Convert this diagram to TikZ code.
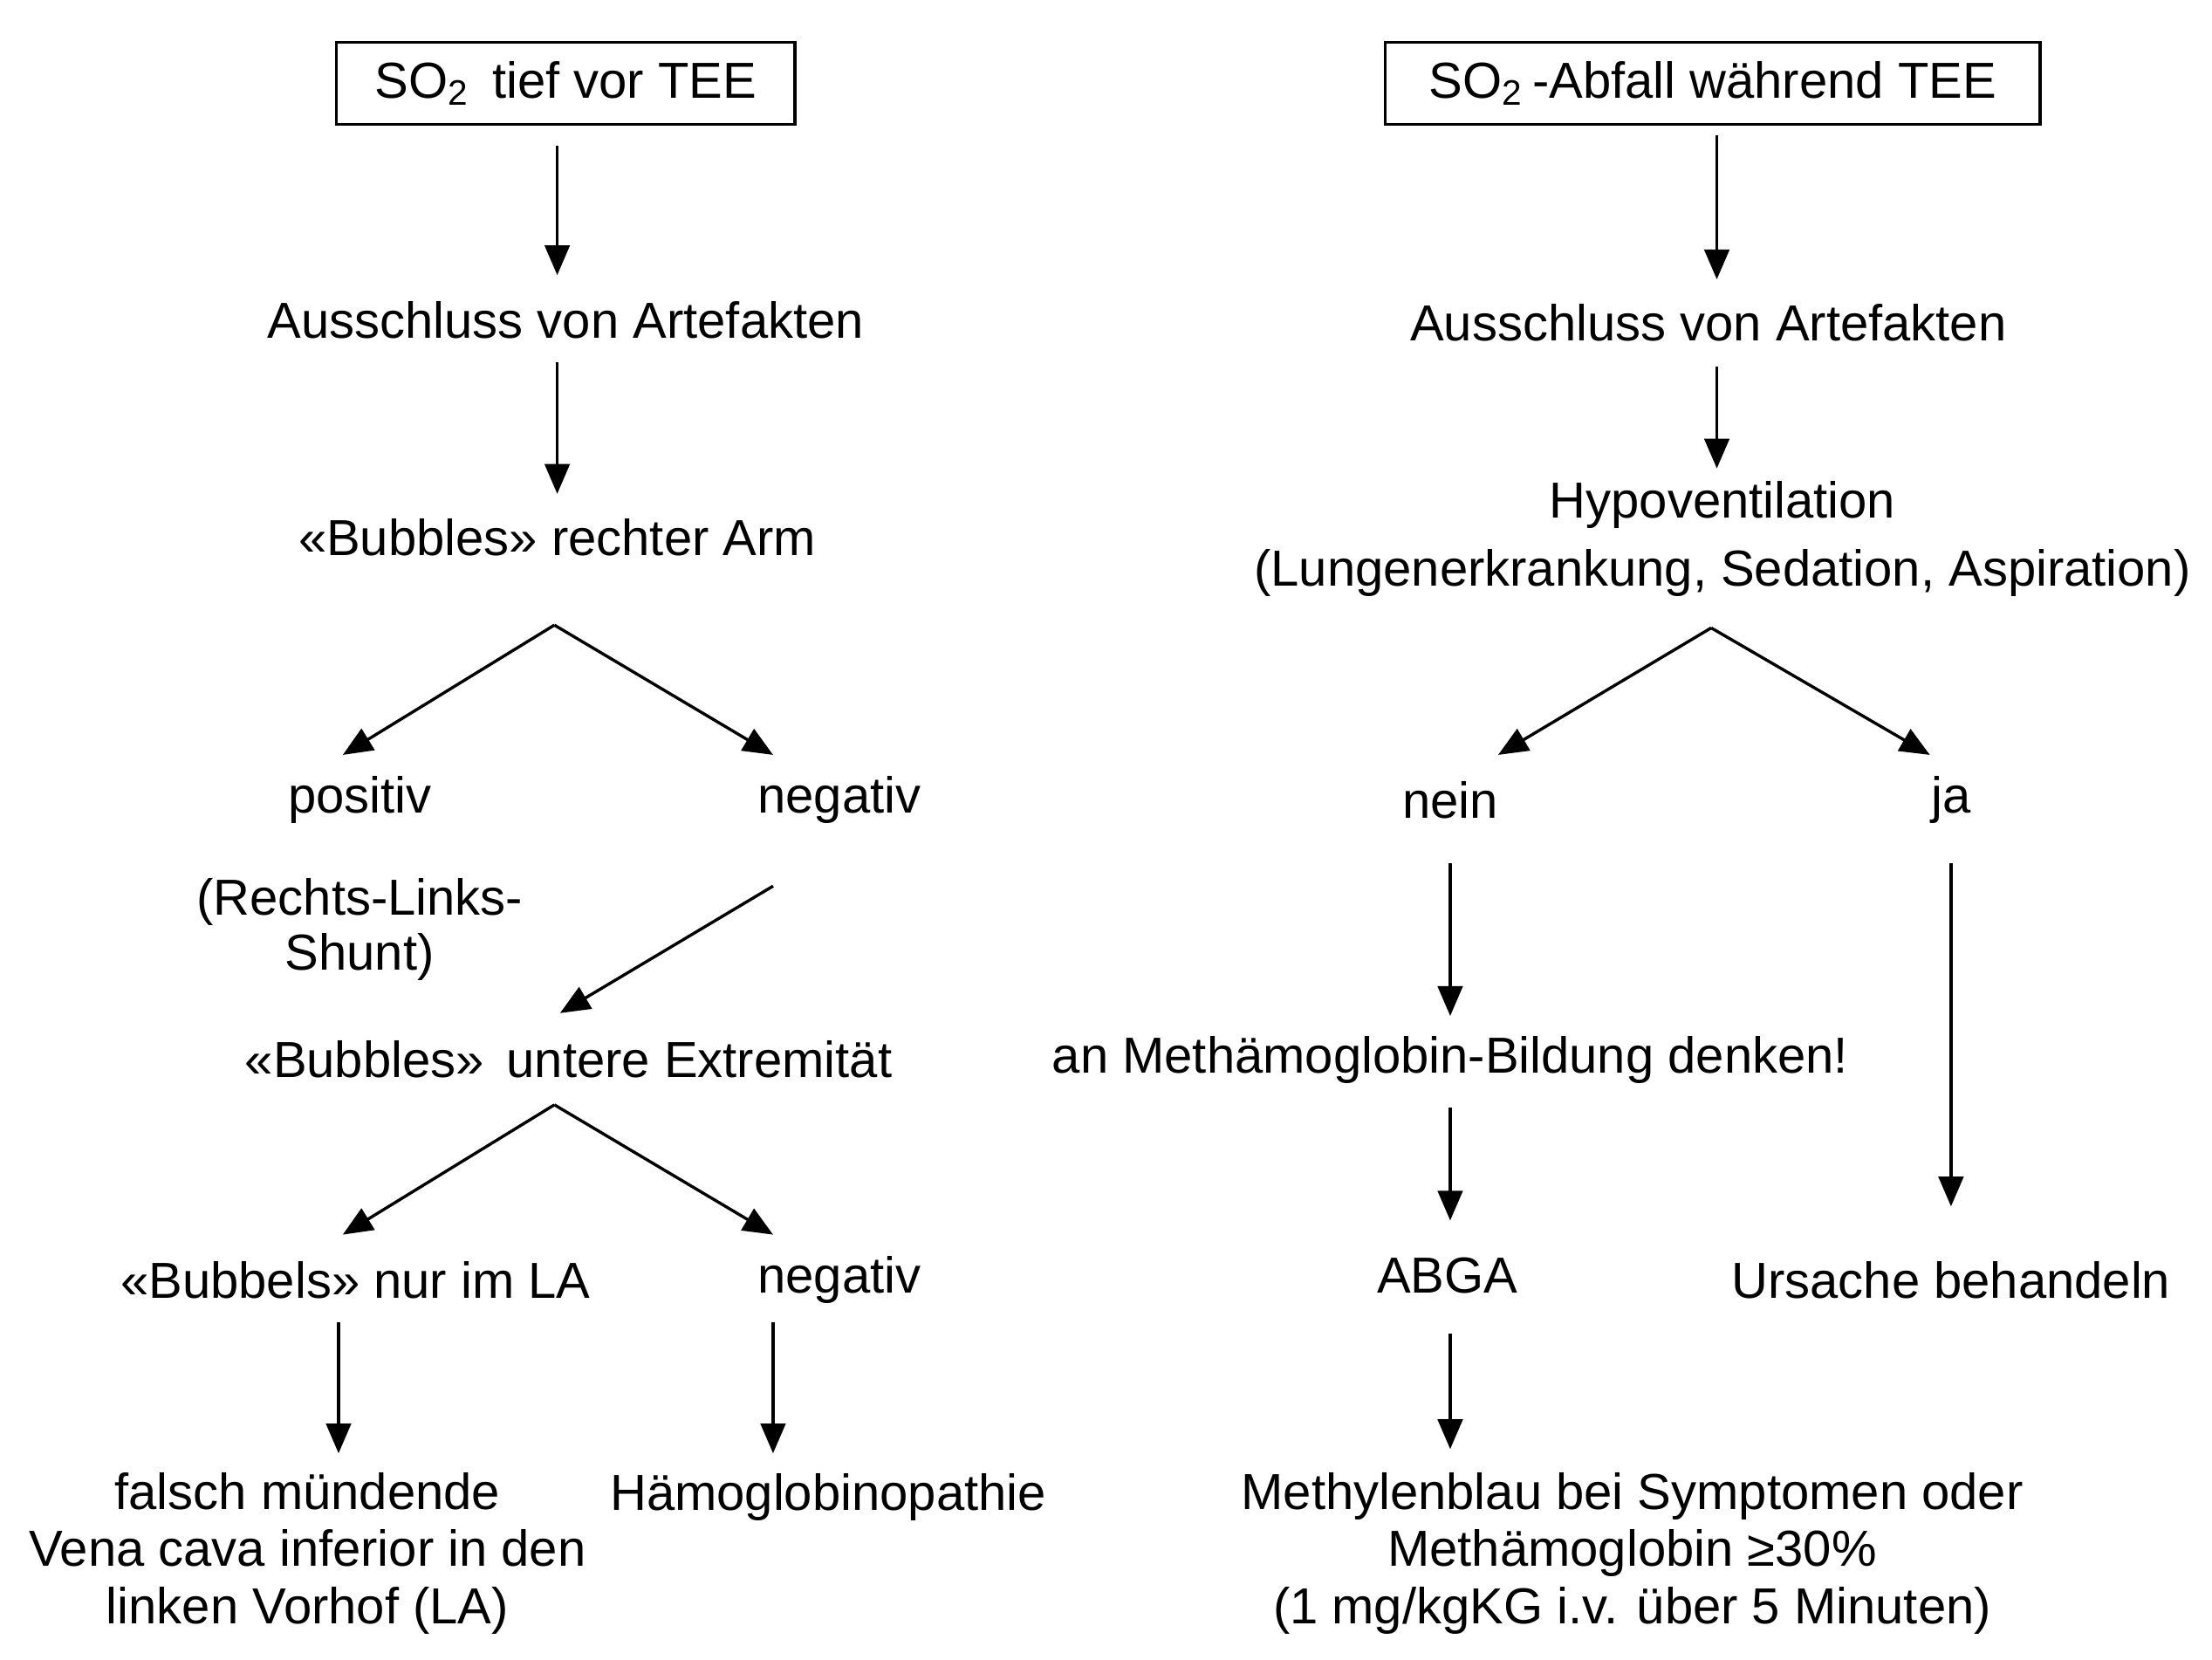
\documentclass[tikz,border=0pt]{standalone}
\usepackage{fontspec}
\setmainfont{Liberation Sans}
\usetikzlibrary{arrows.meta}
\begin{document}
\begin{tikzpicture}[x=0.01cm,y=-0.01cm,
  t/.style={font=\fontsize{10.2}{11.6}\selectfont,align=center,inner sep=0pt},
  bx/.style={draw,line width=0.6pt,minimum width=3.25cm,minimum height=0.58cm},
  ar/.style={line width=0.6pt,-{Triangle[length=6pt,width=5pt]}}]
\useasboundingbox (0,0) rectangle (1568,1176);
% left
\node[bx,t] (l0) at (401,59) {SO\textsubscript{2}\, tief vor TEE};
\node[t] (l1) at (401,227) {Ausschluss von Artefakten};
\node[t] (l2) at (395,381) {«Bubbles» rechter Arm};
\node[t] (lp) at (255,567) {positiv};
\node[t] (ln) at (595,567) {negativ};
\node[t,text depth=0pt] (lrl) at (255,655) {(Rechts-Links-\\[-0.5pt]Shunt)};
\node[t] (l3) at (403,751) {«Bubbles»\, untere Extremität};
\node[t] (lb) at (252,907) {«Bubbels» nur im LA};
\node[t] (ln2) at (595,907) {negativ};
\node[t] (lf) at (218,1101) {falsch mündende\\Vena cava inferior in den\\linken Vorhof (LA)};
\node[t] (lh) at (587,1061) {Hämoglobinopathie};
\coordinate (a1) at (395,103); \coordinate (b1) at (395,195);
\coordinate (a2) at (395,257); \coordinate (b2) at (395,350);
\coordinate (s1) at (393,443); \coordinate (e1) at (243,535); \coordinate (e2) at (548,535);
\coordinate (a3) at (548,628); \coordinate (b3) at (397,718);
\coordinate (s2) at (393,783); \coordinate (e3) at (243,875); \coordinate (e4) at (548,875);
\coordinate (a4) at (240,937); \coordinate (b4) at (240,1030);
\coordinate (a5) at (548,937); \coordinate (b5) at (548,1030);
\foreach \p/\q in {a1/b1,a2/b2,s1/e1,s1/e2,a3/b3,s2/e3,s2/e4,a4/b4,a5/b5} \draw[ar] (\p) -- (\q);
% right
\node[bx,t,minimum width=4.64cm] (r0) at (1214,59) {SO\textsubscript{2}\,-Abfall während TEE};
\node[t] (r1) at (1211,229) {Ausschluss von Artefakten};
\node[t] (r2) at (1221,382) {Hypoventilation\\[2pt](Lungenerkrankung, Sedation, Aspiration)};
\node[t] (rn) at (1028,567) {nein};
\node[t] (rj) at (1383,567) {ja};
\node[t] (rm) at (1028,751) {an Methämoglobin-Bildung denken!};
\node[t] (ra) at (1026,904) {ABGA};
\node[t] (ru) at (1383,907) {Ursache behandeln};
\node[t] (rb) at (1157,1101) {Methylenblau bei Symptomen oder\\Methämoglobin ≥30\%\\(1 mg/kgKG i.v. über 5 Minuten)};
\coordinate (c1) at (1217,96); \coordinate (d1) at (1217,198);
\coordinate (c2) at (1217,260); \coordinate (d2) at (1217,332);
\coordinate (t1) at (1213,445); \coordinate (f1) at (1062,535); \coordinate (f2) at (1368,535);
\coordinate (c3) at (1028,612); \coordinate (d3) at (1028,720);
\coordinate (c4) at (1028,785); \coordinate (d4) at (1028,865);
\coordinate (c5) at (1383,612); \coordinate (d5) at (1383,855);
\coordinate (c6) at (1028,945); \coordinate (d6) at (1028,1027);
\foreach \p/\q in {c1/d1,c2/d2,t1/f1,t1/f2,c3/d3,c4/d4,c5/d5,c6/d6} \draw[ar] (\p) -- (\q);
\end{tikzpicture}
\end{document}
